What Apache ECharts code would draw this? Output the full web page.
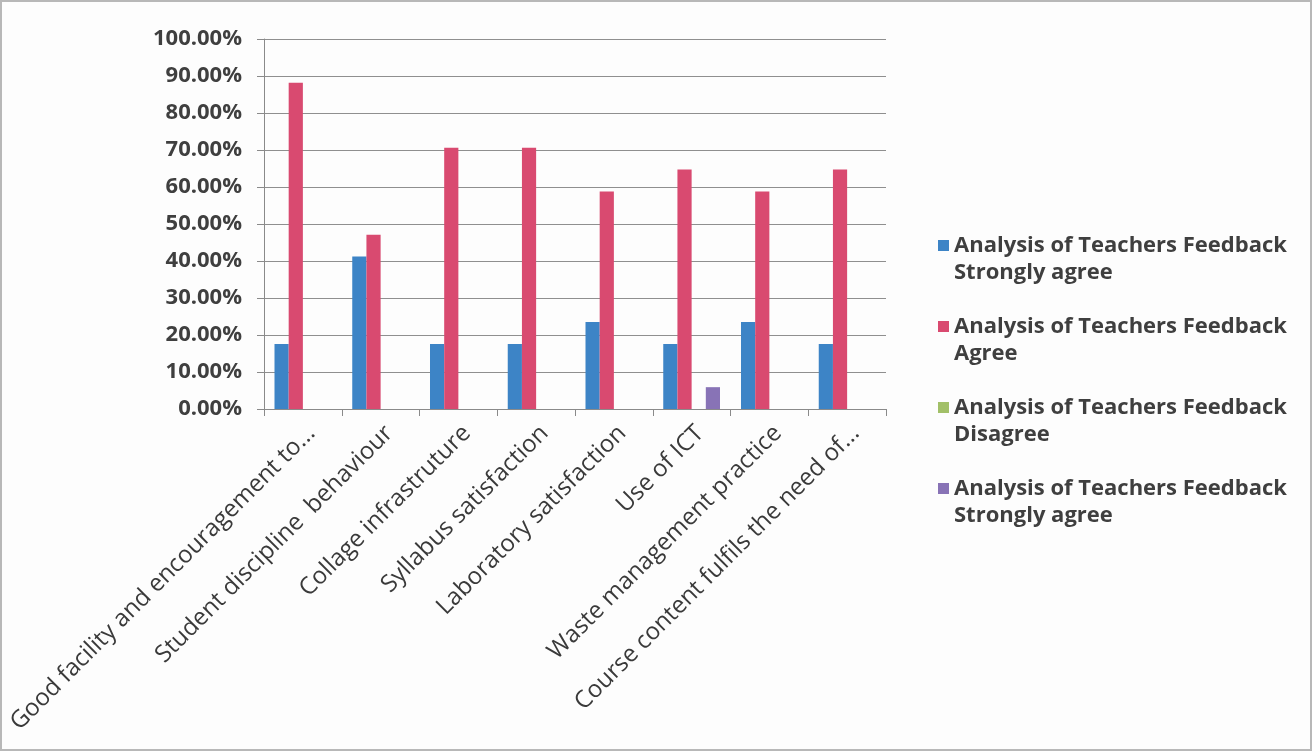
<!DOCTYPE html>
<html>
<head>
<meta charset="utf-8">
<script src="https://cdn.jsdelivr.net/npm/echarts@6/dist/echarts.min.js"></script>
<style>
  html, body { margin: 0; padding: 0; background: #fdfdfd; }
  #chart { width: 1312px; height: 751px; box-sizing: border-box; border: 2px solid #b8b8b8; }
</style>
</head>
<body>
<div id="chart"></div>
<script>
const categories = [
  'Good facility and encouragement to...',
  'Student discipline  behaviour',
  'Collage infrastruture',
  'Syllabus satisfaction',
  'Laboratory satisfaction',
  'Use of ICT',
  'Waste management practice',
  'Course content fulfils the need of...'
]
const seriesNames = [
  'Analysis of Teachers Feedback\nStrongly agree',
  'Analysis of Teachers Feedback\nAgree',
  'Analysis of Teachers Feedback\nDisagree',
  'Analysis of Teachers Feedback\nStrongly agree '
]
const stronglyAgree = [17.6, 41.2, 17.6, 17.6, 23.5, 17.6, 23.5, 17.6]
const agree = [88.2, 47.1, 70.6, 70.6, 58.8, 64.7, 58.8, 64.7]
const disagree = [0, 0, 0, 0, 0, 0, 0, 0]
const stronglyAgree2 = [0, 0, 0, 0, 0, 5.9, 0, 0]
const colors = ['#3d84c6', '#d94a70', '#a2c068', '#8873b6']

const chartInstance = echarts.init(document.getElementById('chart'))

const fontFamily = '"Open Sans", Lato, sans-serif'

const option = {
  backgroundColor: 'transparent',
  animation: false,
  color: colors,
  textStyle: { fontFamily },
  legend: {
    orient: 'vertical',
    left: 931,
    top: 198,
    itemWidth: 11,
    itemHeight: 11,
    itemGap: 0,
    icon: 'rect',
    // blank first line so the icon sits beside the first text line
    formatter: (name) => '\n' + name,
    textStyle: {
      color: '#3f3f3f',
      fontSize: 22,
      fontWeight: 'bold',
      lineHeight: 27
    },
    data: seriesNames
  },
  grid: {
    left: 262,
    right: 424,
    top: 37,
    bottom: 340
  },
  xAxis: {
    type: 'category',
    data: categories,
    axisLine: { lineStyle: { color: '#8a8a8a', width: 1 } },
    axisTick: { show: true, length: 7, lineStyle: { color: '#8a8a8a' } },
    axisLabel: {
      interval: 0,
      rotate: 45,
      margin: 12,
      verticalAlign: 'top',
      color: '#3a3a3a',
      fontSize: 24,
      fontFamily
    }
  },
  yAxis: {
    type: 'value',
    min: 0,
    max: 100,
    interval: 10,
    axisLine: { show: true, lineStyle: { color: '#8a8a8a', width: 1 } },
    axisTick: { show: true, length: 7, lineStyle: { color: '#8a8a8a' } },
    splitLine: { lineStyle: { color: '#8f8f8f', width: 1 } },
    axisLabel: {
      margin: 22,
      color: '#3f3f3f',
      fontSize: 22,
      fontWeight: 'bold',
      fontFamily,
      formatter: (v) => v.toFixed(2) + '%'
    }
  },
  series: [stronglyAgree, agree, disagree, stronglyAgree2].map((data, i) => ({
    name: seriesNames[i],
    type: 'bar',
    barGap: '0%',
    barCategoryGap: '27%',
    itemStyle: { color: colors[i] },
    data
  }))
}

chartInstance.setOption(option, true)
</script>
</body>
</html>
